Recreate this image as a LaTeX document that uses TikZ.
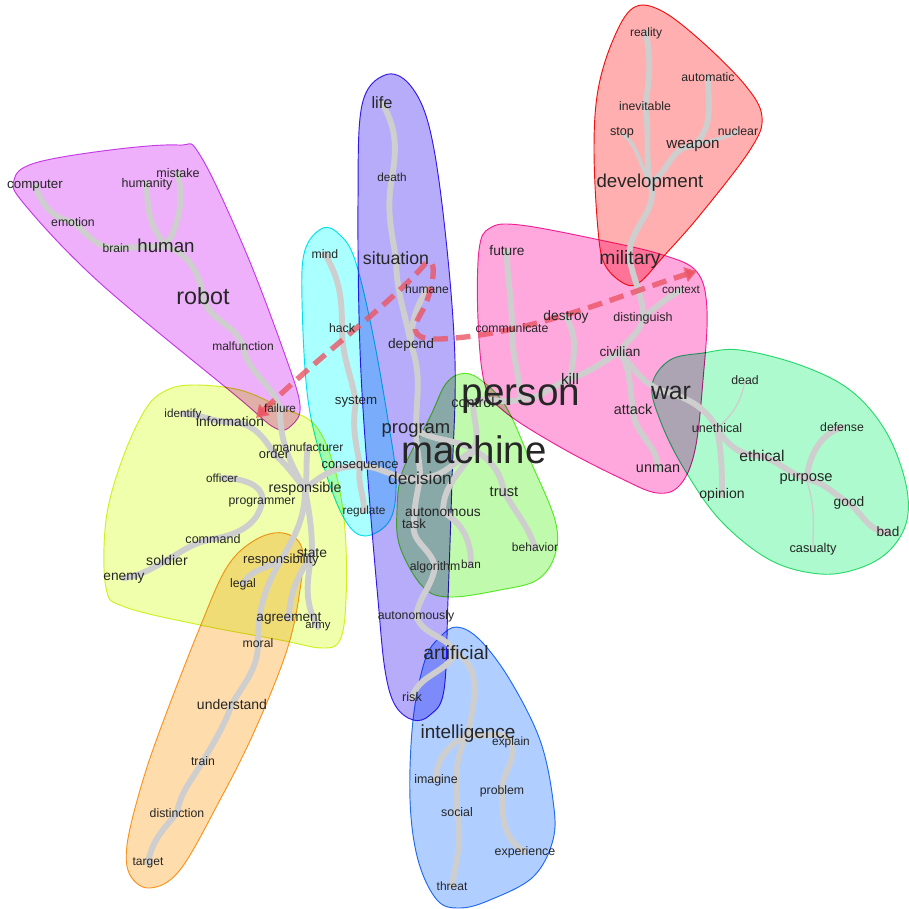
\documentclass[tikz,border=0pt]{standalone}
\usepackage{fontspec}
\setmainfont{Liberation Sans}
\usetikzlibrary{arrows.meta}
\pgfdeclarelayer{bg}
\pgfdeclarelayer{mid}
\pgfsetlayers{bg,mid,main}
\definecolor{mgF}{RGB}{238,176,250}\definecolor{mgD}{RGB}{205,70,235}
\definecolor{cyF}{RGB}{170,255,255}\definecolor{cyD}{RGB}{0,225,235}
\definecolor{vlF}{RGB}{182,172,250}\definecolor{vlD}{RGB}{60,30,235}
\definecolor{pkF}{RGB}{255,168,222}\definecolor{pkD}{RGB}{240,40,160}
\definecolor{rdF}{RGB}{255,175,175}\definecolor{rdD}{RGB}{240,20,20}
\definecolor{gnF}{RGB}{172,250,205}\definecolor{gnD}{RGB}{50,220,120}
\definecolor{lgF}{RGB}{192,250,172}\definecolor{lgD}{RGB}{100,235,50}
\definecolor{ylF}{RGB}{240,255,172}\definecolor{ylD}{RGB}{215,240,40}
\definecolor{orF}{RGB}{255,220,172}\definecolor{orD}{RGB}{250,160,40}
\definecolor{blF}{RGB}{176,206,255}\definecolor{blD}{RGB}{40,120,240}
\definecolor{glC}{RGB}{206,206,206}
\definecolor{arC}{RGB}{235,85,100}
\tikzset{
  w/.style={font=\fontsize{#1}{#1}\selectfont, text=black!85, inner sep=0pt},
  blob/.style 2 args={fill=#1, draw=#2, line width=0.7pt, blend mode=multiply},
  gl/.style={draw=glC, line width=4.4pt, line cap=round},
  glt/.style={draw=glC, line width=2.8pt, line cap=round},
  glh/.style={draw=glC, line width=1pt},
  arr/.style={draw=arC, line width=4pt, dash pattern=on 11pt off 6pt, draw opacity=0.8,
    arrows={Triangle[length=9pt,width=11pt]-Triangle[length=9pt,width=11pt]}}
}
\begin{document}
\begin{tikzpicture}[x=0.75pt,y=-0.75pt]
\useasboundingbox (0,0) rectangle (908,909);
% ---------- blobs ----------
\begin{pgfonlayer}{bg}
\fill[white] (0,0) rectangle (908,909);
\draw[blob={mgF}{mgD}] plot[smooth cycle,tension=0.6] coordinates {(14,180) (35,163) (110,150) (178,145) (200,155) (245,250) (285,355) (300,405) (292,425) (275,428) (235,395) (100,283) (25,205)};
\draw[blob={ylF}{ylD}] plot[smooth cycle,tension=0.6] coordinates {(192,385) (240,390) (282,408) (315,425) (335,470) (345,530) (346,600) (340,640) (322,648) (280,640) (200,625) (125,607) (106,588) (106,520) (122,460) (145,410) (165,391)};
\draw[blob={orF}{orD}] plot[smooth cycle,tension=0.6] coordinates {(283,533) (302,548) (300,590) (287,650) (255,730) (220,800) (180,870) (150,888) (130,875) (127,845) (140,790) (160,730) (200,627) (227,567) (255,540)};
\draw[blob={cyF}{cyD}] plot[smooth cycle,tension=0.6] coordinates {(323,228) (340,235) (355,260) (372,330) (388,420) (396,480) (390,520) (365,536) (345,520) (325,470) (308,400) (302,300) (305,250)};
\draw[blob={vlF}{vlD}] plot[smooth cycle,tension=0.6] coordinates {(385,75) (410,85) (430,130) (445,230) (455,360) (452,480) (448,600) (444,690) (430,715) (413,720) (395,705) (385,670) (378,600) (368,480) (360,350) (358,200) (362,105)};
\draw[blob={lgF}{lgD}] plot[smooth cycle,tension=0.6] coordinates {(460,374) (478,378) (505,405) (530,460) (555,520) (555,555) (537,580) (500,590) (450,597) (423,587) (400,547) (397,510) (403,470) (430,417) (445,385)};
\draw[blob={pkF}{pkD}] plot[smooth cycle,tension=0.6] coordinates {(490,228) (520,225) (600,240) (663,255) (697,272) (707,310) (703,380) (695,450) (680,485) (657,493) (620,478) (560,447) (505,412) (485,385) (478,320) (479,250)};
\draw[blob={rdF}{rdD}] plot[smooth cycle,tension=0.6] coordinates {(633,8) (660,10) (700,40) (745,85) (762,117) (750,150) (700,215) (663,257) (640,282) (625,284) (605,265) (598,230) (594,150) (598,90) (613,40)};
\draw[blob={gnF}{gnD}] plot[smooth cycle,tension=0.6] coordinates {(703,353) (740,350) (800,365) (850,390) (885,430) (905,480) (907,520) (890,550) (860,568) (820,574) (770,560) (720,520) (683,467) (660,420) (652,385) (670,360)};
\draw[blob={blF}{blD}] plot[smooth cycle,tension=0.6] coordinates {(457,627) (480,640) (510,680) (540,740) (553,800) (553,840) (533,877) (490,900) (460,908) (437,900) (418,860) (410,800) (413,720) (425,660) (440,637)};
\end{pgfonlayer}
% ---------- words ----------
\node[w=10]   (computer)    at (35,186)  {computer};
\node[w=9.4]  (humanity)    at (147,184) {humanity};
\node[w=9.4]  (mistake)     at (178,173) {mistake};
\node[w=9.2]  (emotion)     at (73,222)  {emotion};
\node[w=9]    (brain)       at (116,248) {brain};
\node[w=14]   (human)       at (166,246) {human};
\node[w=17.5] (robot)       at (203,296) {robot};
\node[w=9]    (malfunction) at (243,346) {malfunction};
\node[w=8.8]  (failure)     at (280,408) {failure};
\node[w=8.8]  (identify)    at (183,414) {identify};
\node[w=10.3] (information) at (230,422) {information};
\node[w=9]    (manufacturer) at (308,447) {manufacturer};
\node[w=9.7]  (order)       at (274,454) {order};
\node[w=8.8]  (officer)     at (222,478) {officer};
\node[w=10.7] (responsible) at (305,489) {responsible};
\node[w=9.2]  (programmer)  at (262,502) {programmer};
\node[w=9.4]  (command)     at (213,539) {command};
\node[w=10.6] (soldier)     at (167,560) {soldier};
\node[w=10.3] (enemy)       at (124,578) {enemy};
\node[w=9.8]  (responsibility) at (281,560) {responsibility};
\node[w=10.4] (state)       at (312,553) {state};
\node[w=9.2]  (legal)       at (243,584) {legal};
\node[w=10.2] (agreement)   at (289,619) {agreement};
\node[w=8.5]  (army)        at (318,627) {army};
\node[w=9.2]  (moral)       at (258,643) {moral};
\node[w=10.5] (understand)  at (232,704) {understand};
\node[w=9.2]  (train)       at (203,761) {train};
\node[w=9.2]  (distinction) at (177,813) {distinction};
\node[w=9]    (target)      at (148,863) {target};
\node[w=9.2]  (mind)        at (325,254) {mind};
\node[w=9.2]  (hack)        at (342,328) {hack};
\node[w=10]   (system)      at (356,402) {system};
\node[w=9.7]  (consequence) at (360,466) {consequence};
\node[w=8.9]  (regulate)    at (364,511) {regulate};
\node[w=12.3] (life)        at (382,103) {life};
\node[w=8.8]  (death)       at (392,177) {death};
\node[w=13.3] (situation)   at (396,258) {situation};
\node[w=9.1]  (humane)      at (427,289) {humane};
\node[w=10.3] (depend)      at (411,345) {depend};
\node[w=13.8] (program)     at (416,430) {program};
\node[w=13]   (decision)    at (420,478) {decision};
\node[w=10.8] (control)     at (473,402) {control};
\node[w=28.8] (machine)     at (474,450) {machine};
\node[w=11]   (trust)       at (504,492) {trust};
\node[w=9]    (behavior)    at (535,547) {behavior};
\node[w=10.3] (autonomous)  at (443,512) {autonomous};
\node[w=9.8]  (task)        at (414,524) {task};
\node[w=9.2]  (algorithm)   at (435,567) {algorithm};
\node[w=8.8]  (ban)         at (471,564) {ban};
\node[w=9.2]  (autonomously) at (416,616) {autonomously};
\node[w=14.4] (artificial)  at (456,653) {artificial};
\node[w=9.5]  (risk)        at (412,697) {risk};
\node[w=14.2] (intelligence) at (468,734) {intelligence};
\node[w=8.9]  (explain)     at (511,742) {explain};
\node[w=9.3]  (imagine)     at (436,780) {imagine};
\node[w=9.2]  (problem)     at (502,791) {problem};
\node[w=9.3]  (social)      at (457,812) {social};
\node[w=9.3]  (experience)  at (525,852) {experience};
\node[w=9]    (threat)      at (452,886) {threat};
\node[w=29]   (person)      at (521,399) {person};
\node[w=10.3] (future)      at (507,251) {future};
\node[w=9.2]  (communicate) at (512,328) {communicate};
\node[w=10.3] (destroy)     at (566,317) {destroy};
\node[w=9.4]  (distinguish) at (643,318) {distinguish};
\node[w=10.2] (civilian)    at (620,352) {civilian};
\node[w=11.5] (kill)        at (570,379) {kill};
\node[w=8.8]  (context)     at (681,290) {context};
\node[w=14.5] (military)    at (630,260) {military};
\node[w=10.8] (attack)      at (633,409) {attack};
\node[w=18.6] (war)         at (671,393) {war};
\node[w=10.8] (unman)       at (658,469) {unman};
\node[w=9]    (reality)     at (646,33)  {reality};
\node[w=9.2]  (automatic)   at (708,77)  {automatic};
\node[w=9.2]  (inevitable)  at (645,106) {inevitable};
\node[w=9.5]  (stop)        at (622,133) {stop};
\node[w=11.4] (weapon)      at (693,146) {weapon};
\node[w=9.2]  (nuclear)     at (738,131) {nuclear};
\node[w=14]   (development) at (650,183) {development};
\node[w=9.2]  (dead)        at (745,380) {dead};
\node[w=9.4]  (unethical)   at (717,428) {unethical};
\node[w=11.7] (ethical)     at (762,456) {ethical};
\node[w=9.2]  (defense)     at (842,427) {defense};
\node[w=11]   (purpose)     at (806,479) {purpose};
\node[w=10.5] (opinion)     at (722,495) {opinion};
\node[w=10.3] (good)        at (849,503) {good};
\node[w=10.2] (bad)         at (888,532) {bad};
\node[w=9.6]  (casualty)    at (813,549) {casualty};
\coordinate (arrS) at (256,418);
\coordinate (arrE) at (697,271);
% ---------- gray tree ----------
\begin{pgfonlayer}{mid}
% robot cluster
\draw[gl] (computer.center) to[out=-70,in=170] (emotion.center);
\draw[gl] (emotion.center) to[out=-40,in=180] (brain.center);
\draw[gl] (brain.center) to (human.center);
\draw[gl] (humanity.center) to[out=-90,in=130] (human.center);
\draw[gl] (mistake.center) to[out=-80,in=60] (human.center);
\draw[gl] (human.center) to[out=-20,in=100] (robot.center);
\draw[gl] (robot.center) to[out=-80,in=110] (malfunction.center);
\draw[gl] (malfunction.center) to[out=-80,in=110] (failure.center);
\draw[gl] (failure.center) to[out=-90,in=120] (responsible.center);
% yellow cluster
\draw[gl] (identify.center) to[out=0,in=180] (information.center);
\draw[gl] (information.center) to[out=0,in=120] (order.center);
\draw[gl] (order.center) to[out=-40,in=130] (responsible.center);
\draw[gl] (manufacturer.center) to[out=-100,in=80] (responsible.center);
\draw[gl] (consequence.center) to[out=180,in=40] (responsible.center);
\draw[gl] (officer.center) to[out=0,in=80] (programmer.center);
\draw[gl] (programmer.center) to[out=-100,in=10] (command.center);
\draw[gl] (command.center) to[out=190,in=30] (soldier.center);
\draw[gl] (soldier.center) to[out=-150,in=10] (enemy.center);
\draw[gl] (responsible.center) to[out=-90,in=60] (responsibility.center);
\draw[gl] (responsibility.center) to[out=-150,in=60] (legal.center);
\draw[gl] (responsibility.center) to[out=-120,in=90] (moral.center);
\draw[gl] (responsible.center) to[out=-80,in=90] (state.center);
\draw[gl] (state.center) to[out=-120,in=90] (agreement.center);
\draw[gl] (state.center) to[out=-100,in=120] (army.center);
\draw[gl] (moral.center) to[out=-90,in=60] (understand.center);
\draw[gl] (understand.center) to[out=-110,in=60] (train.center);
\draw[gl] (train.center) to[out=-120,in=80] (distinction.center);
\draw[gl] (distinction.center) to[out=-130,in=80] (target.center);
% cyan
\draw[gl] (mind.center) to[out=-60,in=90] (hack.center);
\draw[gl] (hack.center) to[out=-90,in=100] (system.center);
\draw[gl] (system.center) to[out=-100,in=100] (consequence.center);
\draw[gl] (consequence.center) to[out=-100,in=90] (regulate.center);
\draw[gl] (consequence.center) to[out=0,in=190] (decision.center);
% violet
\draw[gl] (life.center) to[out=-60,in=80] (death.center);
\draw[gl] (death.center) to[out=-100,in=100] (situation.center);
\draw[gl] (situation.center) to[out=-90,in=100] (depend.center);
\draw[gl] (humane.center) to[out=-120,in=90] (depend.center);
\draw[gl] (depend.center) to[out=-70,in=90] (program.center);
\draw[gl] (program.center) to[out=-90,in=90] (decision.center);
\draw[gl] (decision.center) to[out=0,in=210] (machine.center);
\draw[gl] (program.center) to[out=-30,in=150] (machine.center);
% machine
\draw[gl] (machine.center) to[out=70,in=-90] (control.center);
\draw[gl] (control.center) to[out=20,in=200] (person.center);
\draw[gl] (machine.center) to[out=-30,in=100] (trust.center);
\draw[gl] (trust.center) to[out=-60,in=110] (behavior.center);
\draw[gl] (machine.center) to[out=-120,in=90] (autonomous.center);
\draw[gl] (autonomous.center) to[out=-30,in=90] (ban.center);
\draw[gl] (decision.center) to[out=-100,in=90] (task.center);
\draw[gl] (task.center) to[out=-100,in=100] (algorithm.center);
\draw[gl] (algorithm.center) to[out=-100,in=80] (autonomously.center);
\draw[gl] (autonomously.center) to[out=-70,in=120] (artificial.center);
\draw[gl] (artificial.center) to[out=-120,in=70] (risk.center);
\draw[gl] (artificial.center) to[out=-30,in=80] (intelligence.center);
\draw[gl] (intelligence.center) to[out=-150,in=90] (imagine.center);
\draw[gl] (intelligence.center) to[out=-120,in=90] (social.center);
\draw[gl] (social.center) to[out=-80,in=80] (threat.center);
\draw[gl] (intelligence.center) to[out=-20,in=120] (explain.center);
\draw[gl] (explain.center) to[out=-70,in=90] (problem.center);
\draw[gl] (problem.center) to[out=-90,in=150] (experience.center);
% person
\draw[gl] (person.center) to[out=95,in=-90] (communicate.center);
\draw[gl] (communicate.center) to[out=90,in=-90] (future.center);
\draw[gl] (person.center) to[out=0,in=200] (kill.center);
\draw[gl] (kill.center) to[out=80,in=-60] (destroy.center);
\draw[gl] (kill.center) to[out=20,in=210] (civilian.center);
\draw[gl] (civilian.center) to[out=60,in=-100] (distinguish.center);
\draw[gl] (distinguish.center) to[out=90,in=-80] (military.center);
\draw[gl] (distinguish.center) to[out=40,in=210] (context.center);
\draw[gl] (military.center) to[out=100,in=-70] (development.center);
\draw[glt] (development.center) to[out=120,in=-40] (stop.center);
\draw[gl] (development.center) to[out=100,in=-80] (inevitable.center);
\draw[gl] (inevitable.center) to[out=80,in=-80] (reality.center);
\draw[gl] (development.center) to[out=30,in=180] (weapon.center);
\draw[gl] (weapon.center) to[out=40,in=-90] (automatic.center);
\draw[glt] (weapon.center) to[out=20,in=-150] (nuclear.center);
\draw[gl] (civilian.center) to[out=-60,in=100] (attack.center);
\draw[gl] (attack.center) to[out=-90,in=90] (unman.center);
\draw[gl] (civilian.center) to[out=-50,in=170] (war.center);
% green
\draw[gl] (war.center) to[out=-20,in=120] (unethical.center);
\draw[gl] (unethical.center) to[out=-60,in=180] (ethical.center);
\draw[glh] (unethical.center) to[out=40,in=-100] (dead.center);
\draw[gl] (unethical.center) to[out=-80,in=90] (opinion.center);
\draw[gl] (ethical.center) to[out=-20,in=160] (purpose.center);
\draw[gl] (purpose.center) to[out=80,in=200] (defense.center);
\draw[gl] (purpose.center) to[out=-10,in=150] (good.center);
\draw[gl] (good.center) to[out=-40,in=180] (bad.center);
\draw[glh] (purpose.center) to[out=-70,in=90] (casualty.center);
% dashed arrow
\draw[arr] (arrS) .. controls (320,355) and (395,300) .. (425,264)
  .. controls (438,252) and (435,290) .. (420,315)
  .. controls (410,332) and (415,340) .. (440,339)
  .. controls (530,335) and (620,295) .. (arrE);
\end{pgfonlayer}
\end{tikzpicture}
\end{document}
